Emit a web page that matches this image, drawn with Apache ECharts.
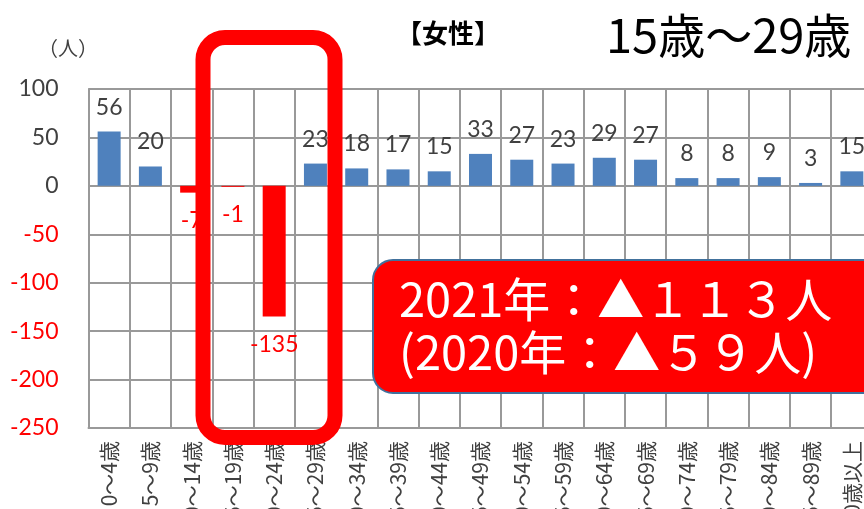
<!DOCTYPE html>
<html>
<head>
<meta charset="utf-8">
<script src="https://cdn.jsdelivr.net/npm/echarts@6/dist/echarts.min.js"></script>
<style>
  html, body { margin: 0; padding: 0; background: #fff; }
  #chart { width: 864px; height: 509px; }
</style>
</head>
<body>
<div id="chart"></div>
<script>
// Age groups (female) and net change in persons
const ageGroups = ['0～4歳', '5～9歳', '10～14歳', '15～19歳', '20～24歳', '25～29歳',
  '30～34歳', '35～39歳', '40～44歳', '45～49歳', '50～54歳', '55～59歳', '60～64歳',
  '65～69歳', '70～74歳', '75～79歳', '80～84歳', '85～89歳', '90歳以上'];
const netChange = [56, 20, -7, -1, -135, 23, 18, 17, 15, 33, 27, 23, 29, 27, 8, 8, 9, 3, 15];

const yTicks = { min: -250, max: 100, interval: 50 };

const BLUE = '#4f81bd';
const RED = '#ff0000';
const TEXT = '#404040';
const NUM_FONT = 'Lato, "Noto Sans", sans-serif';
const JP_FONT = '"Noto Sans CJK JP", "Noto Sans", sans-serif';

const barData = netChange.map(v => ({
  value: v,
  itemStyle: { color: v < 0 ? RED : BLUE },
  label: {
    position: v < 0 ? 'bottom' : 'top',
    distance: v < 0 ? 16 : 13,
    color: v < 0 ? RED : TEXT
  }
}));

const chart = echarts.init(document.getElementById('chart'), null, { renderer: 'canvas' });

chart.setOption({
  animation: false,
  backgroundColor: '#ffffff',
  grid: {
    left: 88.5, top: 89, width: 784, height: 339,
    containLabel: false,
    outerBoundsMode: 'none'
  },
  xAxis: {
    type: 'category',
    data: ageGroups,
    axisLine: { onZero: false, lineStyle: { color: '#999999', width: 2 } },
    axisTick: { show: false },
    splitLine: { show: true, lineStyle: { color: '#999999', width: 2 } },
    axisLabel: {
      rotate: 90,
      interval: 0,
      margin: 13,
      fontSize: 21,
      color: TEXT,
      fontFamily: JP_FONT,
      hideOverlap: false
    }
  },
  yAxis: {
    type: 'value',
    min: yTicks.min,
    max: yTicks.max,
    interval: yTicks.interval,
    axisLine: { show: true, lineStyle: { color: '#999999', width: 2 } },
    axisTick: { show: false },
    splitLine: { show: true, lineStyle: { color: '#999999', width: 2 } },
    axisLabel: {
      margin: 30,
      fontSize: 23,
      fontFamily: NUM_FONT,
      color: v => (Number(v) < 0 ? RED : TEXT)
    }
  },
  series: [{
    type: 'bar',
    data: barData,
    barWidth: 23,
    label: {
      show: true,
      fontSize: 23,
      fontFamily: NUM_FONT
    }
  }],
  graphic: [
    {
      type: 'text', left: 38, top: 38, z: 50,
      style: { text: '（人）', fill: TEXT, font: '20px ' + JP_FONT }
    },
    {
      type: 'text', left: 396, top: 20, z: 50,
      style: { text: '【女性】', fill: '#000', font: 'bold 26px ' + JP_FONT }
    },
    {
      type: 'text', left: 606, top: 12, z: 50,
      style: { text: '15歳～29歳', fill: '#000', font: '47px ' + JP_FONT }
    },
    {
      // highlight frame around the 15–29 age groups
      type: 'rect', z: 100,
      shape: { x: 203, y: 37.5, width: 132, height: 400, r: 22 },
      style: { fill: 'none', stroke: RED, lineWidth: 15 }
    },
    {
      type: 'rect', z: 100,
      shape: { x: 373, y: 260, width: 520, height: 133, r: 20 },
      style: { fill: RED, stroke: '#41719c', lineWidth: 2 }
    },
    {
      type: 'text', x: 399, y: 299, z: 101,
      style: { text: '2021年：▲１１３人', fill: '#fff', font: '47px ' + JP_FONT, verticalAlign: 'middle' }
    },
    {
      type: 'text', x: 399, y: 352, z: 101,
      style: { text: '(2020年：▲５９人)', fill: '#fff', font: '47px ' + JP_FONT, verticalAlign: 'middle' }
    }
  ]
});
</script>
</body>
</html>
